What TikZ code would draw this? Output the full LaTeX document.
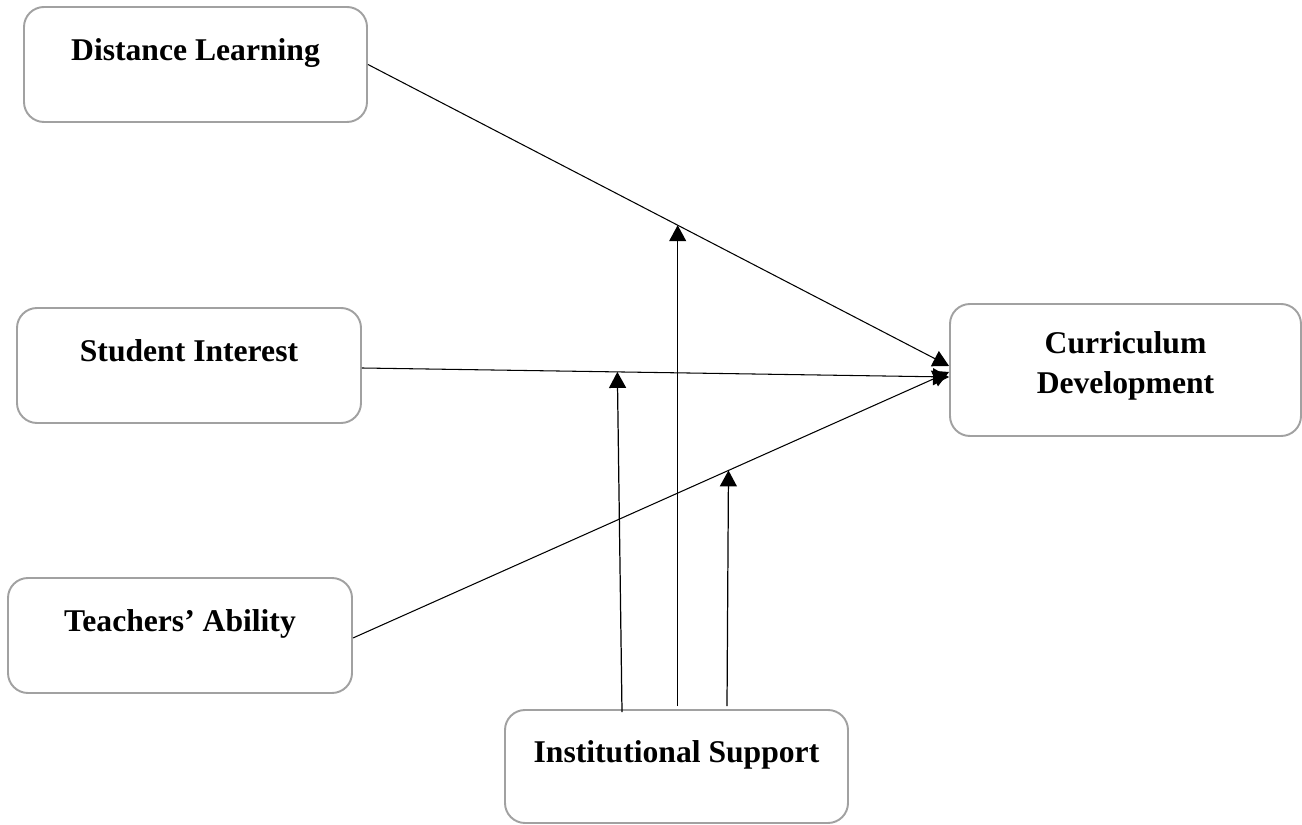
\documentclass[tikz,border=0pt]{standalone}
\usepackage{fontspec}
\setmainfont{Liberation Serif}
\usetikzlibrary{arrows.meta, positioning, calc}
\tikzset{
    varbox/.style={
        rectangle,
        rounded corners=0.4cm,
        minimum width=6.86cm,
        inner sep=0pt,
        text height=1.08cm,
        text depth=1.22cm,
        align=center,
        draw=black!37,
        line width=1.1pt,
        font=\fontsize{18}{23.3}\selectfont\bfseries
    },
    arrow/.style={
        line width=0.6pt,
        -{Triangle[length=0.32cm, width=0.34cm]}
    }
}

\begin{document}
\begin{tikzpicture}
\useasboundingbox (0,0) rectangle (26.04,16.48);
% variables
\node[varbox] (dl) at (3.91,15.19) {Distance Learning};
\node[varbox, minimum width=6.88cm] (si) at (3.78,9.17) {Student Interest};
\node[varbox, minimum width=6.88cm] (ta) at (3.60,3.77) {Teachers’ Ability};
\node[varbox, text height=1.04cm] (is) at (13.53,1.15) {Institutional Support};
\node[varbox, minimum width=7.02cm, text height=1.80cm, text depth=0.84cm] (cd) at (22.51,9.08) {Curriculum\\Development};
% direct paths
\draw[arrow] (dl.east) -- coordinate[pos=0.533] (dlcross) ([yshift=0.08cm]cd.west);
\draw[arrow] ([yshift=-0.05cm]si.east) -- coordinate[pos=0.435] (sicross) ([yshift=-0.14cm]cd.west);
\draw[arrow] ([yshift=-0.05cm]ta.east) -- coordinate[pos=0.63] (tacross) ([yshift=-0.04cm]cd.west);
% moderator
\draw[arrow, line width=0.7pt] ([xshift=-1.09cm, yshift=-0.06cm]is.north) -- (sicross);
\draw[arrow, line width=0.7pt] ($(is.north -| dlcross)+(0,0.06)$) -- (dlcross);
\draw[arrow, line width=0.7pt] ([xshift=1.01cm, yshift=0.06cm]is.north) -- (tacross);
\end{tikzpicture}
\end{document}
